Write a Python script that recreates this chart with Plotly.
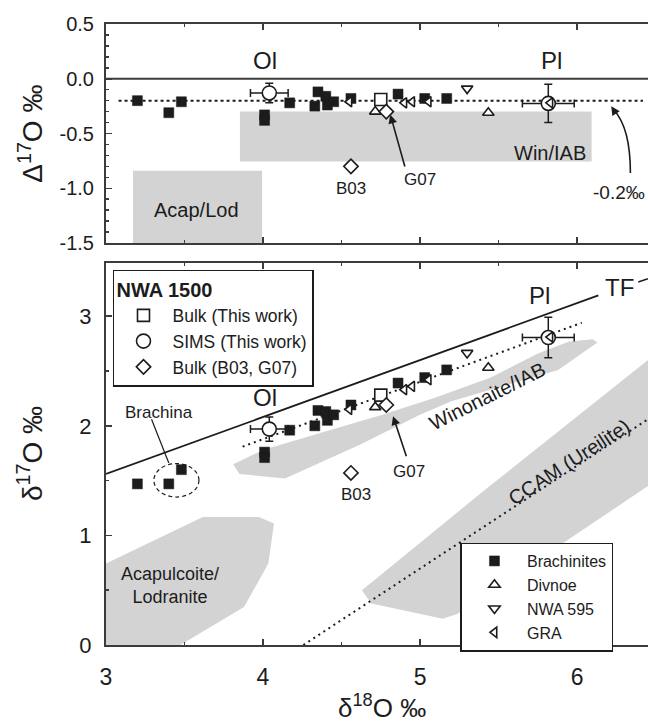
import plotly.graph_objects as go

FONT = "Liberation Sans, Arial, sans-serif"
INK = "#1c1c1c"
AX = "#3c3c3c"
GRAY = "#d3d3d3"

# ---------------- data ----------------
# Brachinites
brach_d18 = [3.20, 3.40, 3.48, 4.01, 4.01, 4.17, 4.33, 4.35, 4.40, 4.41, 4.45, 4.56, 4.86, 5.03, 5.17]
brach_D17 = [-0.20, -0.31, -0.21, -0.33, -0.38, -0.22, -0.25, -0.12, -0.16, -0.24, -0.21, -0.18, -0.14, -0.18, -0.18]
brach_d17 = [1.47, 1.47, 1.60, 1.76, 1.71, 1.96, 2.00, 2.14, 2.13, 2.05, 2.10, 2.19, 2.39, 2.44, 2.51]
# Divnoe
div_d18 = [4.715, 5.435]
div_D17 = [-0.30, -0.31]
div_d17 = [2.17, 2.53]
# NWA 595
nwa595_d18 = [5.30]
nwa595_D17 = [-0.09]
nwa595_d17 = [2.665]
# GRA
gra_d18 = [4.55, 4.90, 4.95, 5.055, 5.83]
gra_D17 = [-0.21, -0.22, -0.21, -0.21, -0.22]
gra_d17 = [2.15, 2.33, 2.36, 2.42, 2.81]
# NWA 1500 bulk (this work)
bulk_d18 = [4.75]
bulk_D17 = [-0.19]
bulk_d17 = [2.28]
# NWA 1500 SIMS (this work): Ol, Pl
sims_d18 = [4.04, 5.817]
sims_D17 = [-0.13, -0.225]
sims_d17 = [1.97, 2.805]
sims_err_d18 = [0.12, 0.165]
sims_err_D17 = [0.09, 0.175]
sims_err_d17 = [0.11, 0.185]
# NWA 1500 bulk (B03, G07)
lit_d18 = [4.56, 4.785]
lit_D17 = [-0.80, -0.30]
lit_d17 = [1.57, 2.19]

# reference lines
tf_d18 = [3.0, 6.136]
tf_d17 = [1.56, 3.19]
frac_d18 = [3.87, 6.03]
frac_d17 = [1.81, 2.94]
ccam_d18 = [4.257, 6.452]
ccam_d17 = [0.0, 2.06]
zero_d18 = [3.0, 6.452]
zero_D17 = [0.0, 0.0]
offs_d18 = [3.08, 6.42]
offs_D17 = [-0.2, -0.2]

# fields (grey regions)
winT_x = [3.853, 6.093, 6.093, 3.853]
winT_y = [-0.298, -0.298, -0.755, -0.755]
acapT_x = [3.172, 3.994, 3.994, 3.172]
acapT_y = [-0.84, -0.84, -1.5, -1.5]
win_x = [3.81, 4.00, 4.38, 4.76, 5.095, 5.45, 5.75, 5.95, 6.10, 6.13, 6.05, 5.88, 5.20, 5.00, 4.62, 4.14, 3.85]
win_y = [1.65, 1.78, 1.94, 2.10, 2.255, 2.44, 2.66, 2.77, 2.79, 2.76, 2.68, 2.51, 2.225, 2.10, 1.83, 1.52, 1.56]
acap_x = [3.0, 3.617, 3.974, 4.07, 4.034, 3.879, 3.473, 3.0]
acap_y = [0.743, 1.168, 1.168, 1.108, 0.743, 0.347, 0.0, 0.0]
ccamF_x = [4.63, 4.69, 5.145, 5.24, 6.452, 6.452, 5.40]
ccamF_y = [0.50, 0.378, 0.24, 0.286, 1.45, 2.60, 1.40]

XR = [3.0, 6.452]

fig = go.Figure()

def fill(x, y, xa, ya):
    fig.add_trace(go.Scatter(x=x, y=y, xaxis=xa, yaxis=ya, mode="lines", fill="toself",
                             fillcolor=GRAY, line=dict(width=0, color=GRAY),
                             showlegend=False, hoverinfo="skip"))

def line(x, y, xa, ya, dash="solid", w=1.8, color=INK):
    fig.add_trace(go.Scatter(x=x, y=y, xaxis=xa, yaxis=ya, mode="lines",
                             line=dict(width=w, color=color, dash=dash),
                             showlegend=False, hoverinfo="skip"))

# grey fields
fill(winT_x, winT_y, "x", "y")
fill(acapT_x, acapT_y, "x", "y")
fill(win_x, win_y, "x2", "y2")
fill(acap_x, acap_y, "x2", "y2")
fill(ccamF_x, ccamF_y, "x2", "y2")

# lines
line(zero_d18, zero_D17, "x", "y", w=1.8, color=AX)
line(offs_d18, offs_D17, "x", "y", dash="dot", w=2)
line(tf_d18, tf_d17, "x2", "y2", w=1.8)
line(frac_d18, frac_d17, "x2", "y2", dash="2px,4px", w=2)
line(ccam_d18, ccam_d17, "x2", "y2", dash="2px,4px", w=2)

def pts(x, y, xa, ya, symbol, size, fillc, name=None, legend=None, rank=None, ex=None, ey=None, lw=1.6):
    kw = {}
    if ex is not None:
        kw["error_x"] = dict(type="data", array=ex, visible=True, color=INK, thickness=1.5, width=4)
    if ey is not None:
        kw["error_y"] = dict(type="data", array=ey, visible=True, color=INK, thickness=1.5, width=4)
    fig.add_trace(go.Scatter(
        x=x, y=y, xaxis=xa, yaxis=ya, mode="markers", name=name,
        marker=dict(symbol=symbol, size=size, color=fillc, line=dict(color=INK, width=lw)),
        showlegend=name is not None, legend=legend, legendrank=rank,
        cliponaxis=False, **kw))

for xa, ya, use_leg, D in (("x", "y", False, 0), ("x2", "y2", True, 1)):
    def nm(s):
        return s if use_leg else None
    pts(brach_d18, [brach_D17, brach_d17][D], xa, ya, "square", 10, INK,
        nm("Brachinites"), "legend2", 1, lw=0.5)
    pts(sims_d18, [sims_D17, sims_d17][D], xa, ya, "circle", 14, "white",
        nm("SIMS (This work)"), "legend", 2, ex=sims_err_d18,
        ey=[sims_err_D17, sims_err_d17][D])
    pts(gra_d18, [gra_D17, gra_d17][D], xa, ya, "triangle-left", 9, "white",
        nm("GRA"), "legend2", 4)
    pts(div_d18, [div_D17, div_d17][D], xa, ya, "triangle-up", 10, "white",
        nm("Divnoe"), "legend2", 2)
    pts(nwa595_d18, [nwa595_D17, nwa595_d17][D], xa, ya, "triangle-down", 10, "white",
        nm("NWA 595"), "legend2", 3)
    pts(bulk_d18, [bulk_D17, bulk_d17][D], xa, ya, "square", 12, "white",
        nm("Bulk (This work)"), "legend", 1)
    pts(lit_d18, [lit_D17, lit_d17][D], xa, ya, "diamond", 11, "white",
        nm("Bulk (B03, G07)"), "legend", 3)

# ---------------- annotations ----------------
ann = []
def txt(x, y, s, size, xref="x", yref="y", angle=0, xanchor="center", yanchor="middle"):
    ann.append(dict(x=x, y=y, xref=xref, yref=yref, text=s, showarrow=False,
                    textangle=angle, xanchor=xanchor, yanchor=yanchor,
                    font=dict(family=FONT, size=size, color=INK)))

def arrow(x, y, ax, ay, xref, yref):
    ann.append(dict(x=x, y=y, ax=ax, ay=ay, xref=xref, yref=yref, axref=xref, ayref=yref,
                    text="", showarrow=True, arrowhead=2, arrowsize=1.1, arrowwidth=1.6,
                    arrowcolor=INK, standoff=0, startstandoff=0))

# top panel
txt(4.01, 0.17, "Ol", 24)
txt(5.84, 0.17, "Pl", 24)
txt(5.83, -0.675, "Win/IAB", 20)
txt(3.575, -1.20, "Acap/Lod", 20)
txt(4.562, -1.0, "B03", 17)
txt(5.00, -0.92, "G07", 17)
arrow(4.811, -0.328, 4.906, -0.815, "x", "y")
txt(6.09, -1.04, "-0.2‰", 19, xanchor="left")
arrow(6.218, -0.25, 6.245, -0.31, "x", "y")

# bottom panel
txt(4.01, 2.255, "Ol", 24, "x2", "y2")
txt(5.764, 3.19, "Pl", 24, "x2", "y2")
txt(6.27, 3.266, "TF", 24, "x2", "y2")
txt(3.34, 2.12, "Brachina", 17, "x2", "y2")
txt(5.431, 2.272, "Winonaite/IAB", 20, "x2", "y2", angle=-26.5)
txt(5.95, 1.67, "CCAM (Ureilite)", 20, "x2", "y2", angle=-33)
txt(3.41, 0.54, "Acapulcoite/<br>Lodranite", 18, "x2", "y2")
txt(4.928, 1.587, "G07", 17, "x2", "y2")
arrow(4.828, 2.088, 4.916, 1.708, "x2", "y2")
txt(4.59, 1.37, "B03", 17, "x2", "y2")

# axis titles
txt(-0.140, 0.8236, "Δ<sup>17</sup>O ‰", 28, "paper", "paper", angle=-90)
txt(-0.140, 0.3078, "δ<sup>17</sup>O ‰", 28, "paper", "paper", angle=-90)
txt(0.509, -0.0998, "δ<sup>18</sup>O ‰", 26, "paper", "paper")

shapes = [
    # curved arrow for -0.2 permil
    dict(type="path", xref="x", yref="y", path="M 6.34,-0.86 Q 6.34,-0.45 6.235,-0.285",
         line=dict(color=INK, width=1.6)),
    # Brachina leader and dashed circle
    dict(type="line", xref="x2", yref="y2", x0=3.29, y0=2.06, x1=3.40, y1=1.66,
         line=dict(color=INK, width=1.2)),
    dict(type="circle", xref="x2", yref="y2", x0=3.305, x1=3.592, y0=1.35, y1=1.655,
         line=dict(color=INK, width=1.2, dash="4px,3px")),
    # TF leader stub
    dict(type="line", xref="x2", yref="y2", x0=6.39, y0=3.312, x1=6.452, y1=3.343,
         line=dict(color=INK, width=1.5)),
]

axcommon = dict(showgrid=False, zeroline=False, showline=True, linecolor=AX, linewidth=2,
                ticks="inside", tickcolor=AX, tickwidth=1.5, ticklen=6)

fig.update_layout(
    width=648, height=724,
    margin=dict(l=106, r=0, t=24, b=79),
    paper_bgcolor="white", plot_bgcolor="white",
    font=dict(family=FONT, color=INK),
    hovermode=False,
    xaxis=dict(domain=[0, 1], anchor="y", range=XR, showticklabels=False,
               tick0=3, dtick=1, mirror="ticks",
               minor=dict(dtick=0.5, tick0=3, ticks="inside", ticklen=3, tickcolor=AX, tickwidth=1.5),
               **axcommon),
    yaxis=dict(domain=[0.6473, 1], anchor="x", range=[-1.5, 0.5],
               tickmode="array", tickvals=[0.5, 0.0, -0.5, -1.0, -1.5],
               ticktext=["0.5", "0.0", "-0.5", "-1.0", "-1.5"],
               tickfont=dict(size=20, family=FONT, color=INK), ticklabelstandoff=6,
               minor=dict(tickmode="linear", tick0=0, dtick=0.1, ticks="inside", ticklen=3,
                          tickcolor=AX, tickwidth=1.5),
               **axcommon),
    xaxis2=dict(domain=[0, 1], anchor="y2", range=XR, tick0=3, dtick=1, mirror="ticks",
                tickfont=dict(size=23, family=FONT, color=INK), ticklabelstandoff=10,
                minor=dict(dtick=0.5, tick0=3, ticks="inside", ticklen=3, tickcolor=AX, tickwidth=1.5),
                **axcommon),
    yaxis2=dict(domain=[0, 0.6156], anchor="x2", range=[0, 3.488], tick0=0, dtick=1,
                tickfont=dict(size=22, family=FONT, color=INK), ticklabelstandoff=8,
                minor=dict(dtick=0.5, tick0=0, ticks="inside", ticklen=3, tickcolor=AX, tickwidth=1.5),
                **axcommon),
    legend=dict(x=0.0129, y=0.6039, xanchor="left", yanchor="top",
                bordercolor=INK, borderwidth=1.5, bgcolor="white",
                font=dict(size=17.5, family=FONT, color=INK),
                title=dict(text="<b>NWA 1500</b>", font=dict(size=20, family=FONT, color=INK)),
                itemsizing="trace", tracegroupgap=0, itemwidth=48),
    legend2=dict(x=0.654, y=0.165, xanchor="left", yanchor="top",
                 bordercolor=INK, borderwidth=1.5, bgcolor="white",
                 font=dict(size=16, family=FONT, color=INK),
                 itemsizing="trace", tracegroupgap=0, itemwidth=55),
    annotations=ann,
    shapes=shapes,
)

fig.write_html("out.html", config={"displayModeBar": False, "staticPlot": True},
               post_script="document.body.style.margin='0px';")
